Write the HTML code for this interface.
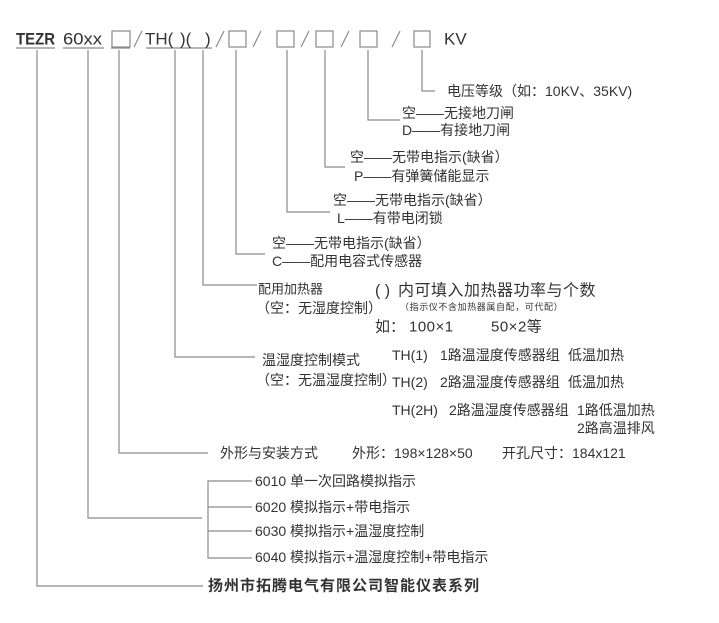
<!DOCTYPE html>
<html><head><meta charset="utf-8"><style>
html,body{margin:0;padding:0;background:#fff;width:719px;height:623px;overflow:hidden}
svg{display:block}
text{font-family:"Liberation Sans","Noto Sans CJK SC",sans-serif;fill:#333;dominant-baseline:central;white-space:pre}
</style></head><body>
<svg width="719" height="623" viewBox="0 0 719 623" xmlns="http://www.w3.org/2000/svg" xml:space="preserve">
<g stroke="#8a8a8a" stroke-width="1.2" fill="none">
<line x1="16" y1="48" x2="55" y2="48"/>
<line x1="63" y1="48" x2="104" y2="48"/>
<line x1="111" y1="48" x2="130" y2="48"/>
<line x1="146" y1="48" x2="212" y2="48"/>
<rect x="112" y="31" width="18" height="16"/>
<rect x="229" y="31" width="17" height="16"/>
<rect x="277" y="31" width="17" height="16"/>
<rect x="316" y="31" width="17" height="16"/>
<rect x="360" y="31" width="17" height="16"/>
<rect x="414" y="31" width="16" height="16"/>
<line x1="134" y1="47" x2="142" y2="31"/>
<line x1="216" y1="47" x2="224" y2="31"/>
<line x1="253" y1="47" x2="261" y2="31"/>
<line x1="301" y1="47" x2="309" y2="31"/>
<line x1="341" y1="47" x2="349" y2="31"/>
<line x1="392" y1="47" x2="400" y2="31"/>
<polyline points="422,50 422,91 435,91"/>
<polyline points="368,50 368,120 400,120"/>
<polyline points="325,50 325,167 345,167"/>
<polyline points="287,50 287,212 330,212"/>
<polyline points="236,50 236,254 265,254"/>
<polyline points="203,50 203,285 257,285"/>
<polyline points="175,50 175,357 255,357"/>
<polyline points="119,50 119,453 208,453"/>
<polyline points="88,50 88,518 202,518"/>
<polyline points="37,50 37,586 203,586"/>
<polyline points="252,481 208,481 208,558 252,558"/>
<line x1="208" y1="507" x2="252" y2="507"/>
<line x1="208" y1="531" x2="252" y2="531"/>
</g>
<text x="16" y="39" font-size="17" font-weight="bold" fill="#444" textLength="39" lengthAdjust="spacingAndGlyphs">TEZR</text>
<text x="63" y="39" font-size="17" textLength="39" lengthAdjust="spacingAndGlyphs">60xx</text>
<text x="145" y="39" font-size="17">TH(</text>
<text x="180" y="39" font-size="17">)(</text>
<text x="205" y="39" font-size="17">)</text>
<text x="444" y="39" font-size="17">KV</text>
<g font-size="14">
<text x="447" y="91">电压等级（如：10KV、35KV)</text>
<text x="402" y="113">空——无接地刀闸</text>
<text x="402" y="130">D——有接地刀闸</text>
<text x="350" y="157">空——无带电指示(缺省）</text>
<text x="354" y="176">P——有弹簧储能显示</text>
<text x="333" y="200">空——无带电指示(缺省）</text>
<text x="337" y="218">L——有带电闭锁</text>
<text x="272" y="243">空——无带电指示(缺省）</text>
<text x="272" y="261">C——配用电容式传感器</text>
<text x="258" y="289" font-size="13">配用加热器</text>
<text x="256" y="308">（空：无湿度控制）</text>
<text x="262" y="360">温湿度控制模式</text>
<text x="256" y="380">（空：无温湿度控制）</text>
<text x="392" y="355">TH(1)</text><text x="440" y="355">1路温湿度传感器组</text><text x="568" y="355">低温加热</text>
<text x="392" y="382">TH(2)</text><text x="440" y="382">2路温湿度传感器组</text><text x="568" y="382">低温加热</text>
<text x="392" y="410">TH(2H)</text><text x="449" y="410">2路温湿度传感器组</text><text x="577" y="410">1路低温加热</text>
<text x="577" y="428">2路高温排风</text>
<text x="220" y="453">外形与安装方式</text>
<text x="352" y="453">外形：198×128×50</text>
<text x="502" y="453">开孔尺寸：184x121</text>
<text x="255" y="481">6010 单一次回路模拟指示</text>
<text x="255" y="507">6020 模拟指示+带电指示</text>
<text x="255" y="531">6030 模拟指示+温湿度控制</text>
<text x="255" y="557">6040 模拟指示+温湿度控制+带电指示</text>
</g>
<text x="375" y="291" font-size="16">( )</text>
<text x="398" y="291" font-size="16" letter-spacing="0.5">内可填入加热器功率与个数</text>
<text x="400" y="307" font-size="9" letter-spacing="0.6">（指示仪不含加热器属自配，可代配）</text>
<text x="375" y="327" font-size="15">如：</text>
<text x="409" y="327" font-size="15" letter-spacing="0.5">100×1</text>
<text x="491" y="327" font-size="15" letter-spacing="0.5">50×2等</text>
<text x="208" y="586" font-size="15" font-weight="bold" fill="#555" letter-spacing="1">扬州市拓腾电气有限公司智能仪表系列</text>
</svg>
</body></html>
